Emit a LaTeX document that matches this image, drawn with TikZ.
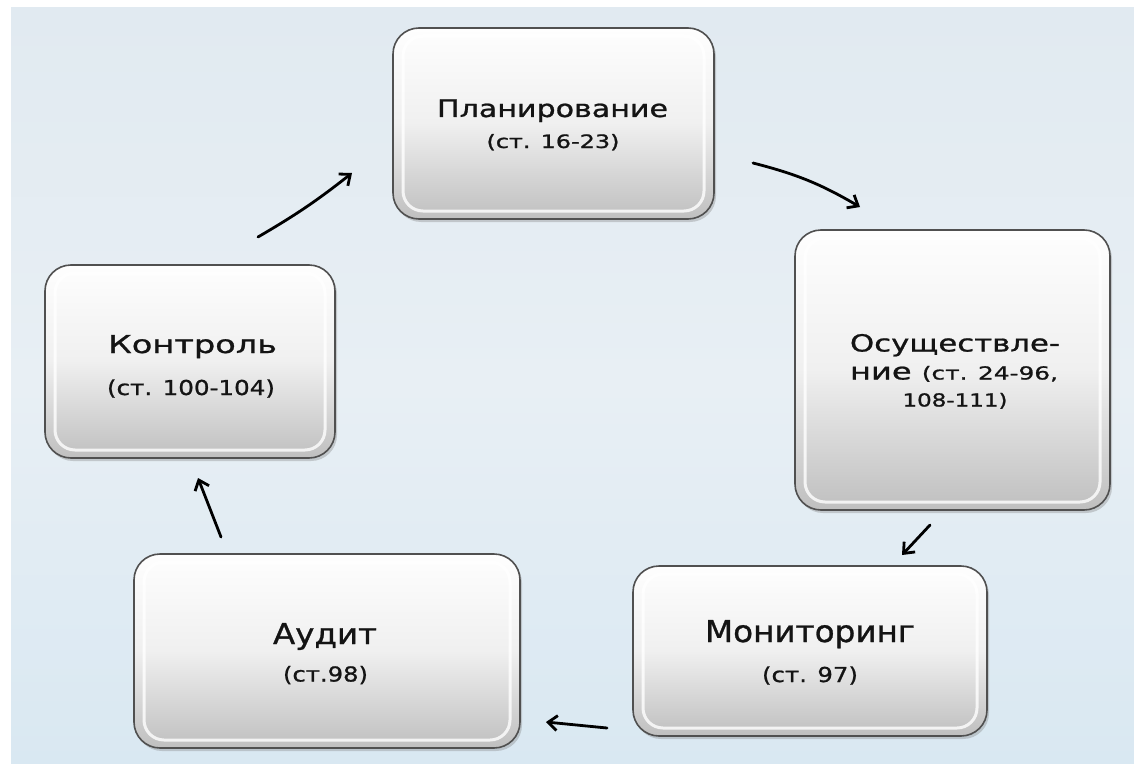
\documentclass[tikz,border=0pt]{standalone}
\usepackage{fontspec}
\usepackage{graphicx}
\setmainfont{DejaVu Sans}[FakeBold=0.9]
\usetikzlibrary{shadows,arrows.meta}
\definecolor{bgtop}{HTML}{E1EAF1}
\definecolor{bgmid}{HTML}{E8EFF4}
\definecolor{bgbot}{HTML}{D9E8F2}
\definecolor{boxtop}{HTML}{FEFEFE}
\definecolor{boxbot}{HTML}{BFBFBF}
\definecolor{boxedge}{HTML}{505050}
\newcommand{\fsz}[1]{\fontsize{#1}{#1}\selectfont}
\newcommand{\fit}[3]{\resizebox{#1pt}{#2pt}{#3}}
\tikzset{
  stagebox/.style={draw=boxedge, line width=1.6pt, rounded corners=26pt,
    top color=boxtop, bottom color=boxbot, middle color=white!88!gray,
    drop shadow={shadow xshift=2pt, shadow yshift=-3pt, opacity=0.35}},
  gloss/.style={draw=white, line width=3pt, rounded corners=20pt, opacity=0.8},
  txt/.style={inner sep=0pt, anchor=base, text=black!92},
  flow/.style={line width=2.8pt, -{Straight Barb[length=9pt,width=15pt,line width=2.8pt]}, line cap=round}
}
\begin{document}
\begin{tikzpicture}[x=1pt,y=-1pt]
\useasboundingbox (0,0) rectangle (1134,773);
\fill[white] (0,0) rectangle (1134,773);
\shade[top color=bgtop, bottom color=bgbot, middle color=bgmid] (11,8) rectangle (1134,763);
% boxes
\path[stagebox] (393,28) rectangle (714,219);
\path[stagebox] (795,230) rectangle (1110,510);
\path[stagebox] (45,265) rectangle (335,458);
\path[stagebox] (134,554) rectangle (520,748);
\path[stagebox] (633,566) rectangle (987,736);
\draw[gloss] (403,36) rectangle (704,211);
\draw[gloss] (805,238) rectangle (1100,502);
\draw[gloss] (55,273) rectangle (325,450);
\draw[gloss] (144,562) rectangle (510,740);
\draw[gloss] (643,574) rectangle (977,728);
% nodes (anchors for connectors)
\node[minimum width=321pt, minimum height=191pt] (plan) at (553.5,123.5) {};
\node[minimum width=315pt, minimum height=280pt] (osu) at (952.5,370) {};
\node[minimum width=290pt, minimum height=193pt] (kon) at (190,361.5) {};
\node[minimum width=386pt, minimum height=194pt] (aud) at (327,651) {};
\node[minimum width=354pt, minimum height=170pt] (mon) at (810,651) {};
% texts
\node[txt] (t1) at (552.5,117) {\fit{231}{17.5}{Планирование}};
\node[txt] (s1) at (553,148) {\fit{133}{14}{(ст. 16-23)}};
\node[txt] (t2) at (955,351.5) {\fit{210}{17.5}{Осуществле-}};
\node[txt] (t2b) at (954,379.5) {\fit{208}{13.6}{\fsz{23.3}ние \fsz{18}(ст. 24-96,}};
\node[txt] (s2) at (955,406.5) {\fit{105}{13.6}{108-111)}};
\node[txt] (t3) at (192.5,353) {\fit{169}{18}{Контроль}};
\node[txt] (s3) at (191,395) {\fit{168}{15.6}{(ст. 100-104)}};
\node[txt] (t4) at (325,644) {\fit{104}{21}{Аудит}};
\node[txt] (s4) at (325.5,681.5) {\fit{85}{15.6}{(ст.98)}};
\node[txt] (t5) at (810,642) {\fit{210}{22}{Мониторинг}};
\node[txt] (s5) at (810,682) {\fit{96}{15.6}{(ст. 97)}};
% connectors
\coordinate (a1s) at (258,237); \coordinate (a1e) at (352,173);
\coordinate (a2s) at (753,163); \coordinate (a2e) at (860,207);
\coordinate (a3s) at (930,525); \coordinate (a3e) at (902,555);
\coordinate (a4s) at (607,728); \coordinate (a4e) at (546,722);
\coordinate (a5s) at (221,537); \coordinate (a5e) at (198,478);
\draw[flow] (a1s) to[bend right=4] (a1e);
\draw[flow] (a2s) to[bend left=8] (a2e);
\draw[flow] (a3s) -- (a3e);
\draw[flow] (a4s) -- (a4e);
\draw[flow] (a5s) -- (a5e);
\end{tikzpicture}
\end{document}
